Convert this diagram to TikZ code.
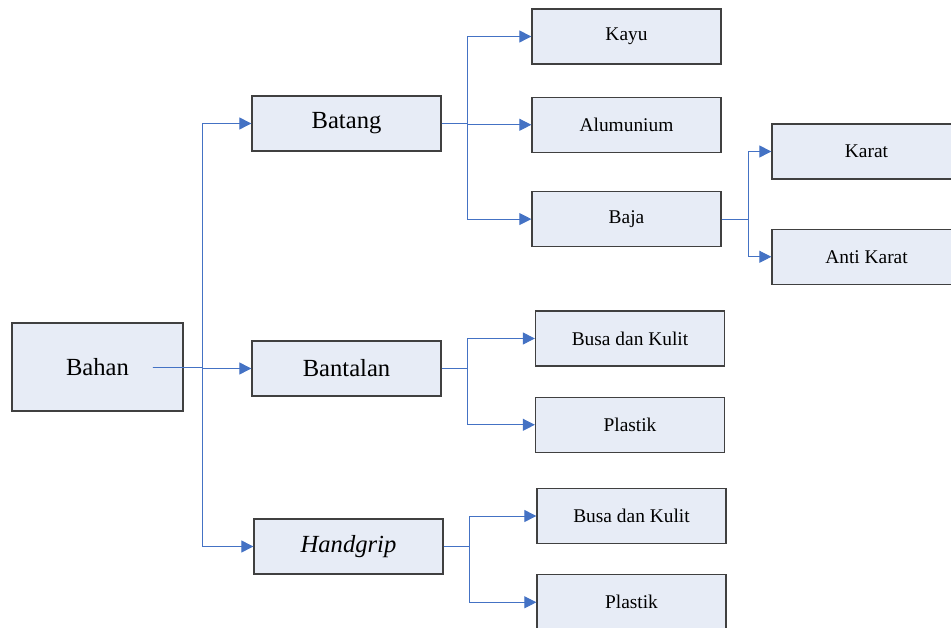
\documentclass[tikz,border=0pt]{standalone}
\usepackage{fontspec}
\setmainfont{Liberation Serif}
\usetikzlibrary{positioning}
\usetikzlibrary{arrows.meta}

\definecolor{boxfill}{HTML}{E7ECF6}
\definecolor{boxline}{HTML}{404040}
\definecolor{linkblue}{HTML}{4472C4}

\tikzset{
  item/.style={draw=boxline, fill=boxfill, line width=0.9pt, minimum width=4.725cm, minimum height=1.375cm, inner sep=0pt, font=\fontsize{13.8}{16}\selectfont},
  group/.style={item, font=\fontsize{17.5}{20}\selectfont},
  link/.style={draw=linkblue, line width=0.7pt, -{Triangle[length=0.3cm,width=0.3cm]}},
}

\begin{document}
\begin{tikzpicture}[x=0.025cm, y=-0.025cm]
    \useasboundingbox (0,0) rectangle (951,628) ;

    \node[group, minimum width=4.275cm, minimum height=2.2cm] (bahan) at (97.5,367) {Bahan} ; %

	\node[group] (batang) at (346.5,123.5) {Batang} ; %
	\node[group] (bantalan) at (346.5,368.5) {Bantalan} ; %
	\node[group] (handgrip) at (348.5,546.5) {\textit{Handgrip}} ; %

	\node[item] (kayu) at (626.5,36.5) {Kayu} ; %
	\node[item, below=0.8cm of kayu] (alumunium) {Alumunium} ; %
	\node[item, below=0.95cm of alumunium] (baja) {Baja} ; %

	\node[item] (karat) at (866.5,151.5) {Karat} ; %
	\node[item, below=1.225cm of karat] (anti_karat) {Anti Karat} ; %

	\node[item] (bantalan_busa) at (630,338.5) {Busa dan Kulit} ; %
	\node[item, below=0.75cm of bantalan_busa] (bantalan_plastik) {Plastik} ; %

	\node[item] (handgrip_busa) at (631.5,516) {Busa dan Kulit} ; %
	\node[item, below=0.75cm of handgrip_busa] (handgrip_plastik) {Plastik} ; %

	\coordinate (bahan_bus) at (202,367) ; %
	\coordinate (batang_bus) at (467,123.5) ; %
	\coordinate (baja_bus) at (748,217.5) ; %
	\coordinate (bantalan_bus) at (467,368.5) ; %
	\coordinate (handgrip_bus) at (469,546.5) ; %

    \draw[link] ([xshift=-0.775cm]bahan.east) -- (bahan.east -| bahan_bus) |- (batang.west) ; %
    \draw[link] ([xshift=-0.775cm]bahan.east) -- (bahan.east -| bahan_bus) |- (bantalan.west) ; %
    \draw[link] ([xshift=-0.775cm]bahan.east) -- (bahan.east -| bahan_bus) |- (handgrip.west) ; %

    \draw[link] (batang.east) -- (batang.east -| batang_bus) |- (kayu.west) ; %
    \draw[link] (batang.east) -- (batang.east -| batang_bus) |- (alumunium.west) ; %
    \draw[link] (batang.east) -- (batang.east -| batang_bus) |- (baja.west) ; %

    \draw[link] (baja.east) -- (baja.east -| baja_bus) |- (karat.west) ; %
    \draw[link] (baja.east) -- (baja.east -| baja_bus) |- (anti_karat.west) ; %

    \draw[link] (bantalan.east) -- (bantalan.east -| bantalan_bus) |- (bantalan_busa.west) ; %
    \draw[link] (bantalan.east) -- (bantalan.east -| bantalan_bus) |- (bantalan_plastik.west) ; %

    \draw[link] (handgrip.east) -- (handgrip.east -| handgrip_bus) |- (handgrip_busa.west) ; %
    \draw[link] (handgrip.east) -- (handgrip.east -| handgrip_bus) |- (handgrip_plastik.west) ; %

\end{tikzpicture}
\end{document}
